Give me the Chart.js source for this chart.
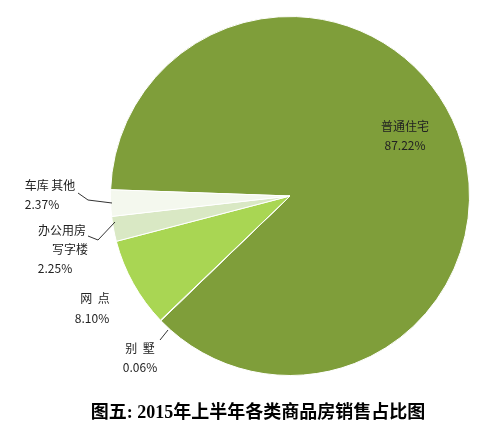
<!DOCTYPE html>
<html><head><meta charset="utf-8">
<script src="https://cdn.jsdelivr.net/npm/chart.js@4"></script>
<style>html,body{margin:0;padding:0;background:#fff}</style>
</head><body>
<canvas id="c" width="500" height="442"></canvas>
<script>
const categories = ['普通住宅','别墅','网点','写字楼','车库其他'];
const values = [87.22, 0.06, 8.10, 2.25, 2.37];
const colors = ['#7f9e3a','#8fb540','#a9d653','#d9e8c4','#f4f8ee'];

const labelPlugin = {
  id:'labels',
  afterDraw(chart){
    const ctx = chart.ctx;
    ctx.save();
    ctx.fillStyle = '#222';
    ctx.font = '12px "Noto Sans CJK SC"';
    ctx.textAlign = 'center';
    ctx.textBaseline = 'middle';
    const t = (s,x,y)=>ctx.fillText(s,x,y);
    t('普通住宅',405,126); t(values[0].toFixed(2)+'%',405,145);
    t('车库 其他',50,185); t(values[4].toFixed(2)+'%',42,204);
    t('办公用房',62,230); t('写字楼',70,249); t(values[3].toFixed(2)+'%',55,268);
    t('网  点',95,298); t(values[2].toFixed(2)+'%',92,318);
    t('别  墅',140,348); t(values[1].toFixed(2)+'%',140,367);
    ctx.strokeStyle='#333'; ctx.lineWidth=1;
    ctx.beginPath();
    ctx.moveTo(78,193); ctx.lineTo(88,200); ctx.lineTo(112,203);
    ctx.moveTo(88,236); ctx.lineTo(98,240); ctx.lineTo(115,222);
    ctx.moveTo(160,340); ctx.lineTo(168,330);
    ctx.stroke();
    ctx.fillStyle='#000';
    ctx.font='bold 18px "Liberation Serif","Noto Sans CJK SC"';
    t('图五: 2015年上半年各类商品房销售占比图',258,413);
    ctx.restore();
  }
};

new Chart(document.getElementById('c'),{
  type:'pie',
  data:{labels:categories,datasets:[{data:values,backgroundColor:colors,borderColor:'#ffffff',borderWidth:1}]},
  options:{
    responsive:false, animation:false, devicePixelRatio:1,
    rotation:272,
    layout:{padding:{left:110,right:30,top:16,bottom:66}},
    plugins:{legend:{display:false},tooltip:{enabled:false}}
  },
  plugins:[labelPlugin]
});
</script>
</body></html>
